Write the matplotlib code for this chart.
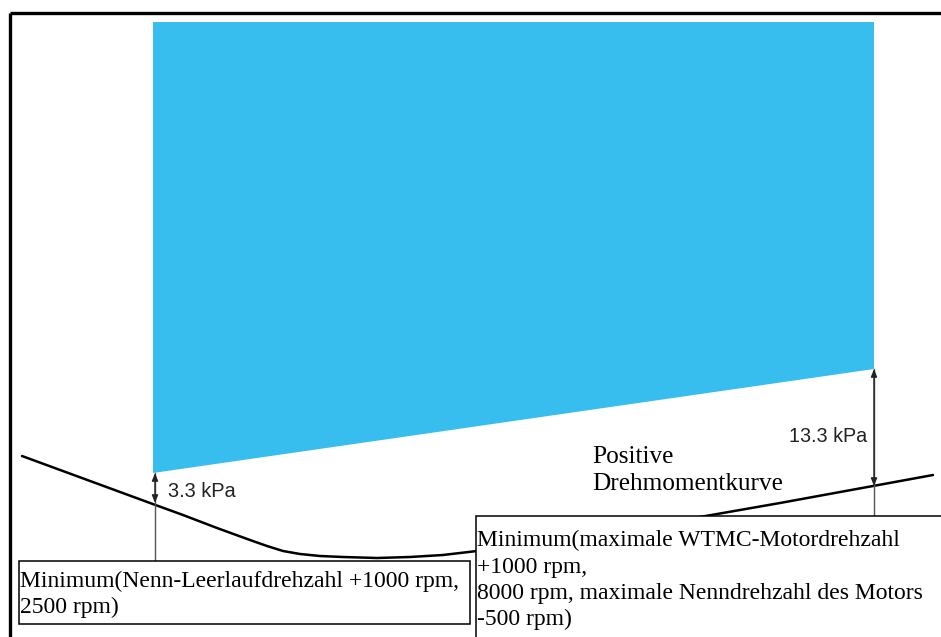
import matplotlib
matplotlib.use("Agg")
import matplotlib.pyplot as plt
from matplotlib.patches import Rectangle, Polygon

# ---- data (drawing units: x to the right, y downward) ----
curve_x = [22, 150, 183, 217, 250, 267, 283, 300, 320, 343, 377, 410, 443, 477, 520, 600, 700, 780, 873, 933]
curve_y = [456, 503, 515, 528, 540, 546, 551, 554, 556, 557, 558, 557, 555, 551, 545, 532, 517, 503, 486, 475]

band_x = [153, 874]
band_top = [22, 22]
band_bottom = [473, 369]

left_marker_x = 155
left_marker_ends = [473, 503]
right_marker_x = 874
right_marker_ends = [369, 486]

label_left = "3.3 kPa"
label_right = "13.3 kPa"
curve_label = "Positive\nDrehmomentkurve"
box_left_text = "Minimum(Nenn-Leerlaufdrehzahl +1000 rpm,\n2500 rpm)"
box_right_text = ("Minimum(maximale WTMC-Motordrehzahl\n+1000 rpm,\n"
                  "8000 rpm, maximale Nenndrehzahl des Motors\n-500 rpm)")

W, H = 941, 637
fig = plt.figure(figsize=(W / 100, H / 100), dpi=100)
ax = fig.add_axes([0, 0, 1, 1])
ax.set_xlim(0, W)
ax.set_ylim(H, 0)
ax.axis("off")

# frame
ax.plot([10, W], [13, 13], color="black", lw=2.4, solid_capstyle="butt", zorder=5)
ax.plot([10, 10], [13, H], color="black", lw=2.4, solid_capstyle="butt", zorder=5)

# blue band
poly = Polygon([[band_x[0], band_top[0]], [band_x[1], band_top[1]],
                [band_x[1], band_bottom[1]], [band_x[0], band_bottom[0]]],
               closed=True, facecolor="#38BEEE", edgecolor="none", zorder=1)
ax.add_patch(poly)

# torque curve
ax.plot(curve_x, curve_y, color="black", lw=1.8, zorder=2, solid_capstyle="round",
        solid_joinstyle="round")

# vertical guide lines
ax.plot([left_marker_x, left_marker_x], [left_marker_ends[0], 561], color="#555555", lw=1.0, zorder=3)
ax.plot([right_marker_x, right_marker_x], [right_marker_ends[0], 516], color="#555555", lw=1.0, zorder=3)

for mx, (a, b) in [(left_marker_x, left_marker_ends), (right_marker_x, right_marker_ends)]:
    ax.annotate("", xy=(mx, a), xytext=(mx, b),
                arrowprops=dict(arrowstyle="<|-|>,head_length=0.45,head_width=0.18",
                                color="#222222", lw=1.0, shrinkA=0, shrinkB=0), zorder=4)

# kPa labels
ax.text(168, 497, label_left, fontsize=14.4, family="Liberation Sans", color="#222222",
        ha="left", va="baseline", zorder=6)
ax.text(867, 442, label_right, fontsize=14.2, family="Liberation Sans", color="#222222",
        ha="right", va="baseline", zorder=6)

# curve label
ax.text(592, 490, curve_label, fontsize=18.2, family="Liberation Serif", color="black",
        ha="left", va="baseline", linespacing=1.3, zorder=6,
        bbox=dict(facecolor="white", edgecolor="none", pad=3))

# boxes
ax.add_patch(Rectangle((19, 561), 451, 63, facecolor="white", edgecolor="black", lw=1.1, zorder=7))
ax.add_patch(Rectangle((476, 516), 520, 200, facecolor="white", edgecolor="black", lw=1.1, zorder=7))

ax.text(20, 613, box_left_text, fontsize=17, family="Liberation Serif", color="black",
        ha="left", va="baseline", linespacing=1.32, zorder=8)
ax.text(477, 625, box_right_text, fontsize=17, family="Liberation Serif", color="black",
        ha="left", va="baseline", linespacing=1.32, zorder=8)

fig.savefig("out.png", dpi=100)
